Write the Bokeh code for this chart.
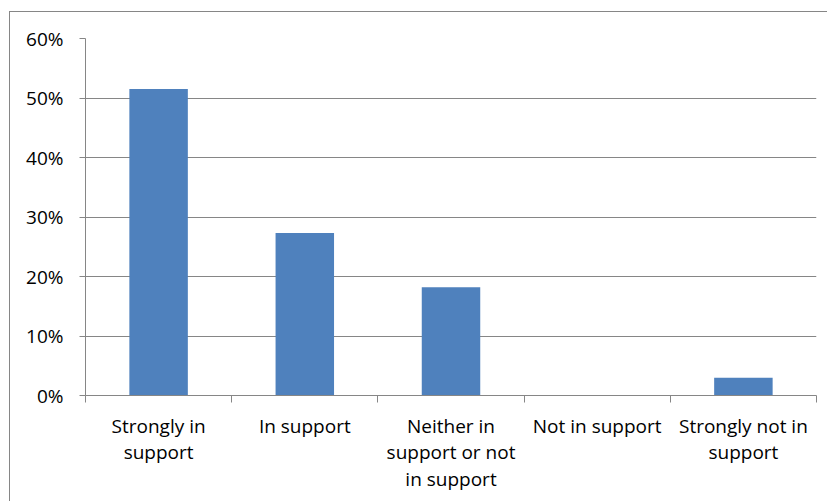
from bokeh.plotting import figure
from bokeh.models import Range1d, FixedTicker, PrintfTickFormatter
from bokeh.embed import file_html
from bokeh.resources import INLINE

categories = ["Strongly in support", "In support", "Neither in support or not in support",
              "Not in support", "Strongly not in support"]
tick_labels = ["Strongly in\nsupport", "In support", "Neither in\nsupport or not\nin support",
               "Not in support", "Strongly not in\nsupport"]
values = [51.5, 27.3, 18.2, 0.0, 3.0]
y_ticks = [0, 10, 20, 30, 40, 50, 60]

FONT = "Open Sans"
GRAY = "#868686"

n = len(categories)
centers = [i + 0.5 for i in range(n)]
bounds = [float(i) for i in range(n + 1)]

p = figure(width=818, height=490, output_backend="svg", toolbar_location=None,
           x_range=Range1d(0, n), y_range=Range1d(0, 60),
           min_border_left=75, min_border_right=12, min_border_top=26, min_border_bottom=107,
           styles={"margin-left": "9px", "margin-top": "11px",
                   "border-left": "1px solid #868686", "border-top": "1px solid #868686"})
p.outline_line_color = None
p.background_fill_color = "white"
p.border_fill_color = "white"

p.vbar(x=centers, top=values, width=0.4, fill_color="#4F81BD", line_color=None)

# x axis
xa = p.xaxis[0]
xa.ticker = FixedTicker(ticks=centers, minor_ticks=bounds)
xa.major_label_overrides = {c: t for c, t in zip(centers, tick_labels)}
xa.major_tick_out = 0
xa.major_tick_in = 0
xa.minor_tick_out = 7
xa.minor_tick_in = 0
xa.minor_tick_line_color = GRAY
xa.axis_line_color = GRAY
xa.major_label_text_font = FONT
xa.major_label_text_font_size = "19px"
xa.major_label_text_color = "black"
xa.major_label_text_line_height = 1.02
xa.major_label_standoff = 10

# y axis
ya = p.yaxis[0]
ya.ticker = FixedTicker(ticks=y_ticks)
ya.formatter = PrintfTickFormatter(format="%d%%")
ya.major_tick_out = 6
ya.major_tick_in = 0
ya.minor_tick_line_color = None
ya.major_tick_line_color = GRAY
ya.axis_line_color = GRAY
ya.major_label_text_font = FONT
ya.major_label_text_font_size = "19px"
ya.major_label_text_color = "black"
ya.major_label_standoff = 16

p.xgrid.grid_line_color = None
p.ygrid.grid_line_color = GRAY
p.ygrid.ticker = FixedTicker(ticks=y_ticks[1:])

open("out.html", "w").write(file_html(p, INLINE))
